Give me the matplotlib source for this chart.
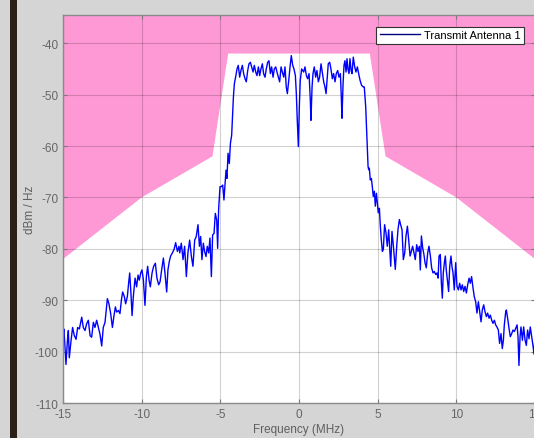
import numpy as np
import matplotlib
matplotlib.use("Agg")
import matplotlib.pyplot as plt

plt.rcParams["font.family"] = ["Liberation Sans", "DejaVu Sans"]
plt.rcParams["axes.unicode_minus"] = False

# =========================
# Data
# =========================
# spectral emission mask
mask_freq = [-15, -10, -5.5, -4.5, 4.5, 5.5, 10, 15]
mask_db = [-82, -70, -62, -42, -42, -62, -70, -82]

# left skirt
left_freq = [-15.0, -14.94, -14.87, -14.81, -14.72, -14.66, -14.60, -14.49, -14.39, -14.28,
             -14.17, -14.07, -13.96, -13.81, -13.71, -13.60, -13.50, -13.39, -13.28, -13.18,
             -13.07, -12.97, -12.86, -12.75, -12.65, -12.54, -12.44, -12.33, -12.18, -12.08,
             -11.97, -11.86, -11.76, -11.67, -11.59, -11.48, -11.38, -11.29, -11.21, -11.10,
             -11.02, -10.91, -10.83, -10.76, -10.68, -10.61, -10.53, -10.42, -10.32, -10.23,
             -10.15, -10.06, -9.98, -9.89, -9.79, -9.70, -9.62, -9.53, -9.45, -9.34,
             -9.24, -9.13, -9.03, -8.92, -8.83, -8.73, -8.62, -8.52, -8.41, -8.33,
             -8.24, -8.16, -8.05, -7.94, -7.84, -7.73, -7.63, -7.58, -7.48, -7.37,
             -7.27, -7.16, -7.06, -6.95, -6.84, -6.74, -6.63, -6.53, -6.42, -6.33,
             -6.25, -6.17, -6.08, -6.00, -5.91, -5.83, -5.74, -5.66, -5.57, -5.49,
             -5.40, -5.32, -5.23, -5.17, -5.11, -5.02, -4.94, -4.85, -4.77, -4.70,
             -4.64, -4.58, -4.51, -4.43, -4.36, -4.28]
left_db = [-97.0, -95.6, -99.2, -102.5, -97.9, -95.9, -101.2, -97.9, -95.3, -96.9,
           -97.6, -95.3, -95.6, -93.3, -95.3, -95.9, -94.6, -93.9, -96.9, -97.2,
           -94.3, -95.3, -93.9, -95.3, -96.6, -98.9, -95.3, -94.3, -89.7, -90.7,
           -92.6, -95.3, -93.0, -91.3, -92.3, -92.0, -92.6, -90.0, -88.4, -89.3,
           -90.7, -89.3, -86.7, -84.7, -88.7, -93.0, -89.3, -85.7, -87.4, -85.1,
           -86.1, -84.7, -84.1, -86.1, -91.0, -85.4, -83.4, -86.1, -87.4, -84.7,
           -83.4, -82.8, -85.7, -87.0, -86.4, -84.1, -81.8, -84.7, -88.4, -84.1,
           -82.4, -81.4, -80.8, -80.1, -78.8, -80.5, -79.5, -80.8, -78.9, -82.1,
           -79.5, -85.4, -80.8, -78.3, -81.5, -83.4, -78.3, -77.6, -75.3, -79.5,
           -77.6, -82.1, -78.9, -80.5, -81.5, -79.5, -80.8, -77.9, -85.4, -77.3,
           -77.0, -73.1, -74.4, -79.9, -72.4, -67.9, -67.9, -67.6, -70.5, -67.2,
           -64.7, -66.3, -61.4, -63.4, -59.5, -57.9]

# occupied band
band_freq = [-4.17, -4.11, -4.03, -3.94, -3.86, -3.77, -3.69, -3.60, -3.52, -3.43,
             -3.35, -3.26, -3.18, -3.09, -3.01, -2.92, -2.84, -2.75, -2.67, -2.58,
             -2.50, -2.42, -2.33, -2.25, -2.16, -2.08, -1.99, -1.91, -1.82, -1.74,
             -1.65, -1.57, -1.48, -1.40, -1.31, -1.23, -1.14, -1.06, -0.97, -0.89,
             -0.81, -0.74, -0.66, -0.57, -0.49, -0.40, -0.32, -0.23, -0.17, -0.11,
             -0.04, 0.02, 0.08, 0.17, 0.30, 0.38, 0.47, 0.55, 0.64, 0.72,
             0.76, 0.83, 0.89, 0.97, 1.06, 1.14, 1.23, 1.31, 1.40, 1.48,
             1.57, 1.65, 1.72, 1.78, 1.86, 1.95, 2.03, 2.12, 2.20, 2.29,
             2.37, 2.46, 2.54, 2.63, 2.69, 2.73, 2.80, 2.86, 2.92, 2.99,
             3.05, 3.11, 3.18, 3.24, 3.31, 3.37, 3.45, 3.54, 3.62, 3.71,
             3.79, 3.88, 3.98, 4.09, 4.15, 4.24, 4.30]
band_db = [-50.5, -47.9, -46.6, -45.0, -44.3, -46.6, -45.3, -44.3, -45.9, -46.9,
           -47.5, -45.3, -44.0, -43.7, -44.6, -45.6, -44.3, -45.6, -46.3, -44.6,
           -46.3, -45.0, -44.0, -45.9, -46.6, -45.0, -43.7, -43.4, -45.9, -44.6,
           -46.6, -45.0, -44.6, -45.6, -46.6, -47.5, -44.6, -45.6, -46.6, -44.6,
           -48.5, -49.8, -47.5, -44.6, -42.4, -44.3, -45.0, -46.3, -49.8, -55.0,
           -60.1, -52.4, -47.2, -45.0, -45.6, -44.6, -46.3, -46.9, -45.9, -51.1,
           -55.0, -48.5, -45.9, -44.6, -46.6, -45.3, -47.5, -46.6, -44.0, -45.6,
           -47.5, -48.5, -49.8, -47.2, -44.0, -43.7, -45.0, -46.9, -45.9, -47.5,
           -45.9, -45.3, -46.6, -45.9, -50.5, -54.6, -47.9, -44.3, -43.4, -45.6,
           -43.0, -45.0, -45.9, -43.0, -45.3, -45.9, -42.7, -44.6, -45.6, -44.6,
           -45.9, -47.2, -48.2, -48.5, -48.5, -52.4, -56.9]

# right skirt
right_freq = [4.36, 4.39, 4.43, 4.47, 4.53, 4.60, 4.66, 4.72, 4.79, 4.85,
              4.92, 4.98, 5.04, 5.11, 5.17, 5.23, 5.30, 5.36, 5.44, 5.53,
              5.61, 5.70, 5.76, 5.83, 5.91, 6.00, 6.06, 6.12, 6.21, 6.29,
              6.38, 6.46, 6.55, 6.63, 6.72, 6.80, 6.89, 6.97, 7.06, 7.14,
              7.22, 7.31, 7.39, 7.48, 7.56, 7.65, 7.71, 7.78, 7.86, 7.94,
              8.01, 8.09, 8.18, 8.26, 8.35, 8.43, 8.52, 8.60, 8.69, 8.77,
              8.84, 8.90, 8.98, 9.05, 9.11, 9.17, 9.24, 9.30, 9.36, 9.45,
              9.51, 9.58, 9.66, 9.72, 9.79, 9.87, 9.96, 10.04, 10.13, 10.21,
              10.30, 10.38, 10.47, 10.55, 10.64, 10.72, 10.81, 10.89, 10.97, 11.06,
              11.14, 11.23, 11.31, 11.40, 11.48, 11.57, 11.65, 11.74, 11.82, 11.91,
              11.99, 12.08, 12.16, 12.25, 12.33, 12.42, 12.50, 12.58, 12.67, 12.75,
              12.84, 12.92, 12.99, 13.05, 13.14, 13.18, 13.26, 13.35, 13.43, 13.52,
              13.60, 13.69, 13.77, 13.86, 13.92, 13.98, 14.05, 14.11, 14.20, 14.28,
              14.37, 14.45, 14.53, 14.62, 14.70, 14.79, 14.87, 14.94, 15.0]
right_db = [-61.4, -64.0, -64.6, -64.3, -66.6, -66.3, -67.9, -69.8, -68.8, -71.7,
            -69.2, -71.1, -73.0, -72.1, -75.6, -78.2, -80.5, -80.1, -75.3, -76.9,
            -79.5, -76.3, -79.5, -83.4, -76.6, -79.5, -81.7, -84.0, -79.5, -76.3,
            -74.3, -75.3, -76.3, -82.1, -80.8, -77.5, -75.6, -78.2, -81.4, -80.5,
            -79.5, -80.8, -82.1, -79.2, -80.5, -79.5, -84.1, -77.5, -79.8, -81.1,
            -82.7, -83.7, -80.8, -79.5, -81.4, -83.7, -84.7, -84.4, -85.0, -84.7,
            -85.7, -81.4, -81.1, -86.7, -89.6, -84.7, -82.7, -81.4, -84.1, -86.7,
            -88.3, -83.4, -81.4, -83.4, -84.7, -88.0, -82.7, -87.3, -88.0, -86.7,
            -88.0, -87.0, -88.3, -87.3, -88.6, -87.0, -85.7, -86.7, -85.4, -87.6,
            -89.3, -90.3, -92.5, -90.3, -92.2, -94.2, -91.9, -90.9, -92.2, -93.2,
            -92.5, -93.5, -92.9, -93.9, -94.5, -93.9, -94.8, -95.2, -95.8, -98.4,
            -96.5, -99.4, -97.8, -94.8, -92.2, -91.9, -93.5, -95.5, -97.1, -96.5,
            -95.8, -96.1, -95.5, -94.8, -97.1, -102.7, -97.1, -95.2, -97.8, -95.2,
            -97.8, -98.8, -95.8, -97.5, -95.2, -97.1, -98.8, -100.5, -97.0]

freq = np.array(left_freq + band_freq + right_freq)
psd = np.array(left_db + band_db + right_db)

x_ticks = [-15, -10, -5, 0, 5, 10, 15]
y_ticks = [-110, -100, -90, -80, -70, -60, -50, -40]

# =========================
# Plot
# =========================
fig = plt.figure(figsize=(5.34, 4.39), dpi=100, facecolor="#d5d5d5")

# dark strip on the left edge of the screenshot
fig.patches.append(plt.Rectangle((10 / 534, 0), 7 / 534, 1, transform=fig.transFigure,
                                 facecolor="#2b2015", edgecolor="none", zorder=0))

ax = fig.add_axes([63 / 534, 35 / 439, 472 / 534, 388 / 439])
ax.set_facecolor("white")

ymax = -34.5
ax.fill_between(mask_freq, mask_db, ymax, facecolor="#ff99d6", edgecolor="none")
ax.plot(freq, psd, color="#0000ff", linewidth=1.0, label="Transmit Antenna 1")

ax.set_xlim(-15, 15)
ax.set_ylim(-110, ymax)
ax.set_xticks(x_ticks)
ax.set_yticks(y_ticks)
ax.grid(True, color="#000000", alpha=0.18, linewidth=0.8)

ax.tick_params(direction="in", length=3, colors="#7a7a7a", labelcolor="#666666",
               labelsize=8.5, top=True, right=True)
for s in ax.spines.values():
    s.set_color("#8a8a8a")
    s.set_linewidth(1.0)

ax.set_xlabel("Frequency (MHz)", fontsize=8.5, color="#5f5f5f", labelpad=2)
ax.set_ylabel("dBm / Hz", fontsize=8.5, color="#5f5f5f")
ax.yaxis.set_label_coords((36 - 63) / 472, 0.5)

leg = ax.legend(loc="upper right", bbox_to_anchor=(0.977, 0.969), borderaxespad=0,
                fontsize=8, handlelength=3.6, handletextpad=0.4, borderpad=0.3,
                fancybox=False, framealpha=1, edgecolor="#333333")
leg.get_frame().set_linewidth(0.8)
leg.get_lines()[0].set_color("#000080")

fig.savefig("out.png", dpi=100, facecolor=fig.get_facecolor())
